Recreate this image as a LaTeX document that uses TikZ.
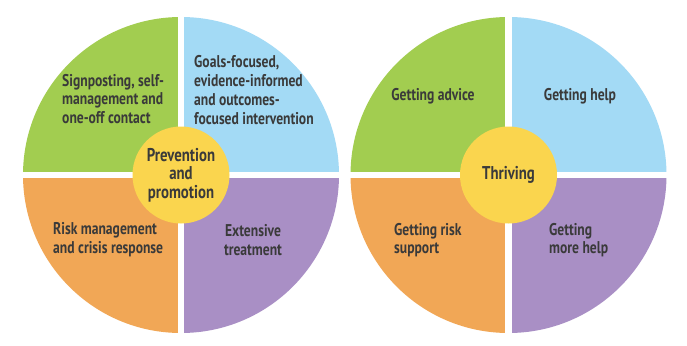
\documentclass[tikz,border=0pt]{standalone}
\usepackage{fontspec}
\setmainfont{PT Sans}[FakeStretch=0.8]
\definecolor{cgreen}{HTML}{A2CD50}
\definecolor{cblue}{HTML}{A3DAF5}
\definecolor{corange}{HTML}{F1A756}
\definecolor{cpurple}{HTML}{A98FC5}
\definecolor{cyellow}{HTML}{FAD54E}
\definecolor{ctext}{HTML}{3A3A3A}
\begin{document}
\begin{tikzpicture}[x=1pt,y=-1pt,
  lbl/.style={font=\fontsize{17}{18.7}\selectfont\bfseries, text=ctext, inner sep=0pt},
  hub/.style={circle, fill=cyellow, minimum size=97pt, inner sep=0pt, align=center, font=\fontsize{18.5}{18.7}\selectfont\bfseries, text=ctext},
  gap/.style={draw=white, line width=6.5pt}]
\useasboundingbox (0,0) rectangle (687,345);
\fill[white] (0,0) rectangle (687,345);
% left wheel
\coordinate (L) at (181,175);
\fill[cgreen]  (L) -- ++(-158,0) arc (180:270:158) -- cycle;
\fill[cblue]   (L) -- ++(0,-158) arc (270:360:158) -- cycle;
\fill[cpurple] (L) -- ++(158,0) arc (0:90:158) -- cycle;
\fill[corange] (L) -- ++(0,158) arc (90:180:158) -- cycle;
\draw[gap] ([xshift=-165pt]L) -- ([xshift=165pt]L);
\draw[gap] ([yshift=-165pt]L) -- ([yshift=165pt]L);
\node[hub] (lc) at (L) {Prevention\\and\\promotion};
\node[lbl, align=left, anchor=west] (l1) at (62,99) {Signposting, self-\\management and\\one-off contact};
\node[lbl, align=left, anchor=west] (l2) at (194,90) {Goals-focused,\\evidence-informed\\and outcomes-\\focused intervention};
\node[lbl, align=left, anchor=west] (l3) at (53,240) {Risk management\\and crisis response};
\node[lbl, align=center] (l4) at (253,240) {Extensive\\treatment};
% right wheel
\coordinate (R) at (508.5,175);
\fill[cgreen]  (R) -- ++(-158,0) arc (180:270:158) -- cycle;
\fill[cblue]   (R) -- ++(0,-158) arc (270:360:158) -- cycle;
\fill[cpurple] (R) -- ++(158,0) arc (0:90:158) -- cycle;
\fill[corange] (R) -- ++(0,158) arc (90:180:158) -- cycle;
\draw[gap] ([xshift=-165pt]R) -- ([xshift=165pt]R);
\draw[gap] ([yshift=-165pt]R) -- ([yshift=165pt]R);
\node[hub] (rc) at (R) {Thriving};
\node[lbl] (r1) at (433,96) {Getting advice};
\node[lbl] (r2) at (580,96) {Getting help};
\node[lbl, align=left, anchor=west] (r3) at (394,240) {Getting risk\\support};
\node[lbl, align=left, anchor=west] (r4) at (549,240) {Getting\\more help};
\end{tikzpicture}
\end{document}
